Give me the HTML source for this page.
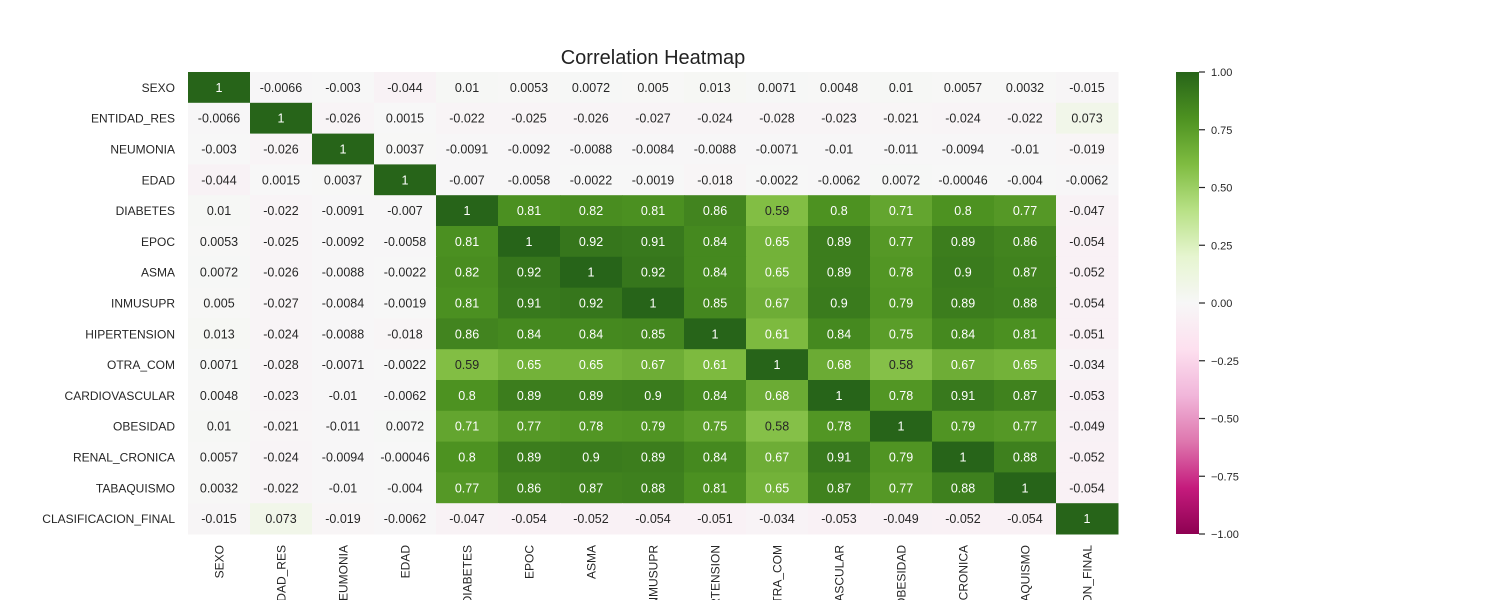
<!DOCTYPE html>
<html><head><meta charset="utf-8">
<style>
html,body{margin:0;background:#fff;width:1500px;height:600px;overflow:hidden;font-family:"Liberation Sans",Arial,sans-serif;}
svg{display:block;overflow:hidden;}
svg text{font-family:"Liberation Sans",Arial,sans-serif;}
</style></head>
<body>
<svg id="chart" width="1500" height="600" xmlns="http://www.w3.org/2000/svg">
<defs>
<linearGradient id="cbgrad" x1="0" y1="1" x2="0" y2="0">
<stop offset="0" stop-color="#8e0152"/><stop offset="0.1" stop-color="#c51b7d"/><stop offset="0.2" stop-color="#de77ae"/><stop offset="0.3" stop-color="#f1b6da"/><stop offset="0.4" stop-color="#fde0ef"/><stop offset="0.5" stop-color="#f7f7f7"/><stop offset="0.6" stop-color="#e6f5d0"/><stop offset="0.7" stop-color="#b8e186"/><stop offset="0.8" stop-color="#7fbc41"/><stop offset="0.9" stop-color="#4d9221"/><stop offset="1" stop-color="#276419"/>
</linearGradient>
<clipPath id="pageclip"><rect x="0" y="0" width="1500" height="600"/></clipPath>
</defs>
<g clip-path="url(#pageclip)">
<text x="653" y="64" text-anchor="middle" font-size="20" fill="#222">Correlation Heatmap</text>
<g id="cells"></g><g id="ylabels"></g><g id="xlabels"></g><g id="cbar"></g>
</g>
</svg>
<script>
const labels=["SEXO","ENTIDAD_RES","NEUMONIA","EDAD","DIABETES","EPOC","ASMA","INMUSUPR","HIPERTENSION","OTRA_COM","CARDIOVASCULAR","OBESIDAD","RENAL_CRONICA","TABAQUISMO","CLASIFICACION_FINAL"];
const row0=[1,-0.0066,-0.003,-0.044,0.01,0.0053,0.0072,0.005,0.013,0.0071,0.0048,0.01,0.0057,0.0032,-0.015];
const row1=[-0.0066,1,-0.026,0.0015,-0.022,-0.025,-0.026,-0.027,-0.024,-0.028,-0.023,-0.021,-0.024,-0.022,0.073];
const row2=[-0.003,-0.026,1,0.0037,-0.0091,-0.0092,-0.0088,-0.0084,-0.0088,-0.0071,-0.01,-0.011,-0.0094,-0.01,-0.019];
const row3=[-0.044,0.0015,0.0037,1,-0.007,-0.0058,-0.0022,-0.0019,-0.018,-0.0022,-0.0062,0.0072,-0.00046,-0.004,-0.0062];
const row4=[0.01,-0.022,-0.0091,-0.007,1,0.81,0.82,0.81,0.86,0.59,0.8,0.71,0.8,0.77,-0.047];
const row5=[0.0053,-0.025,-0.0092,-0.0058,0.81,1,0.92,0.91,0.84,0.65,0.89,0.77,0.89,0.86,-0.054];
const row6=[0.0072,-0.026,-0.0088,-0.0022,0.82,0.92,1,0.92,0.84,0.65,0.89,0.78,0.9,0.87,-0.052];
const row7=[0.005,-0.027,-0.0084,-0.0019,0.81,0.91,0.92,1,0.85,0.67,0.9,0.79,0.89,0.88,-0.054];
const row8=[0.013,-0.024,-0.0088,-0.018,0.86,0.84,0.84,0.85,1,0.61,0.84,0.75,0.84,0.81,-0.051];
const row9=[0.0071,-0.028,-0.0071,-0.0022,0.59,0.65,0.65,0.67,0.61,1,0.68,0.58,0.67,0.65,-0.034];
const row10=[0.0048,-0.023,-0.01,-0.0062,0.8,0.89,0.89,0.9,0.84,0.68,1,0.78,0.91,0.87,-0.053];
const row11=[0.01,-0.021,-0.011,0.0072,0.71,0.77,0.78,0.79,0.75,0.58,0.78,1,0.79,0.77,-0.049];
const row12=[0.0057,-0.024,-0.0094,-0.00046,0.8,0.89,0.9,0.89,0.84,0.67,0.91,0.79,1,0.88,-0.052];
const row13=[0.0032,-0.022,-0.01,-0.004,0.77,0.86,0.87,0.88,0.81,0.65,0.87,0.77,0.88,1,-0.054];
const row14=[-0.015,0.073,-0.019,-0.0062,-0.047,-0.054,-0.052,-0.054,-0.051,-0.034,-0.053,-0.049,-0.052,-0.054,1];
const matrix=[row0,row1,row2,row3,row4,row5,row6,row7,row8,row9,row10,row11,row12,row13,row14];
const cbTicks=[1,0.75,0.5,0.25,0,-0.25,-0.5,-0.75,-1];
const cbTickLabels=["1.00","0.75","0.50","0.25","0.00","−0.25","−0.50","−0.75","−1.00"];

const NS="http://www.w3.org/2000/svg";
const X0=188,X1=1118,Y0=72,Y1=534,n=labels.length;
const cw=(X1-X0)/n,ch=(Y1-Y0)/n;
const xPos=i=>X0+i*cw, yPos=i=>Y0+i*ch;
const cbY=v=>Y0+(1-v)/2*(Y1-Y0);
const stops=["#8e0152","#c51b7d","#de77ae","#f1b6da","#fde0ef","#f7f7f7","#e6f5d0","#b8e186","#7fbc41","#4d9221","#276419"].map(h=>[parseInt(h.slice(1,3),16),parseInt(h.slice(3,5),16),parseInt(h.slice(5,7),16)]);
function color(v){let t=(v+1)/2*10;t=Math.max(0,Math.min(10,t));let i=Math.min(9,Math.floor(t)),f=t-i;
 return stops[i].map((c,k)=>Math.round(c+(stops[i+1][k]-c)*f));}
function lum(c){const l=c.map(x=>{x/=255;return x<=0.03928?x/12.92:Math.pow((x+0.055)/1.055,2.4)});return 0.2126*l[0]+0.7152*l[1]+0.0722*l[2];}
function mk(tag,attrs,parent){const e=document.createElementNS(NS,tag);for(const k in attrs)e.setAttribute(k,attrs[k]);parent.appendChild(e);return e;}
const cells=document.getElementById('cells');
for(let r=0;r<n;r++)for(let c=0;c<n;c++){
 const v=matrix[r][c],col=color(v);
 const rect=mk('rect',{x:xPos(c),y:yPos(r),width:cw+0.5,height:ch+0.5,fill:`rgb(${col})`},cells);
 
 
 const t=mk('text',{x:xPos(c)+cw/2,y:yPos(r)+ch/2+4.5,'text-anchor':'middle','font-size':12.5,fill:lum(col)>0.408?'#262626':'#ffffff'},cells);
 t.textContent=String(v);
 
 
}
const yl=document.getElementById('ylabels'),xl=document.getElementById('xlabels');
labels.forEach((l,i)=>{
 const t=mk('text',{x:175,y:yPos(i)+ch/2+4.5,'text-anchor':'end','font-size':12,fill:'#262626'},yl);
 t.textContent=l;
 
 
 const cx=xPos(i)+cw/2+4.5;
 const u=mk('text',{x:cx,y:545,'text-anchor':'end','font-size':12,fill:'#262626',transform:`rotate(-90 ${cx} 545)`},xl);
 u.textContent=l;
 
 
});
const cb=document.getElementById('cbar');
const bar=mk('rect',{x:1176,y:Y0,width:23,height:Y1-Y0,fill:'url(#cbgrad)'},cb);


cbTicks.forEach((v,i)=>{
 const y=cbY(v);
 const ln=mk('line',{x1:1199,x2:1205,y1:y,y2:y,stroke:'#262626','stroke-width':1.2},cb);
 
 
 const t=mk('text',{x:1211,y:y+4,'font-size':11,fill:'#262626'},cb);
 t.textContent=cbTickLabels[i];
 
 
});
</script>
</body></html>
